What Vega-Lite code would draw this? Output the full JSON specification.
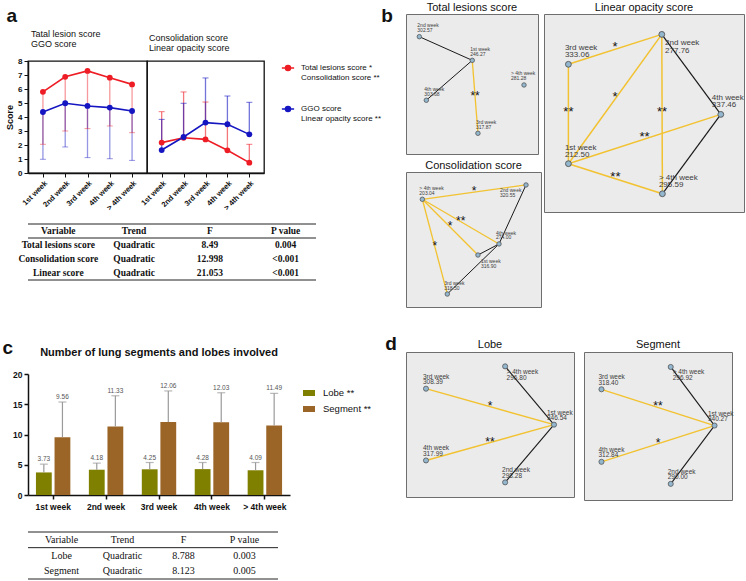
{
 "$schema": "https://vega.github.io/schema/vega-lite/v6.json",
 "padding": {"left": 2, "top": 1, "right": 0, "bottom": 0},
 "background": "white",
 "config": {"font": "Liberation Sans", "view": {"stroke": null}, "axis": {"grid": false}, "title": {"color": "#111", "fontWeight": "normal"}},
 "datasets": {
  "scores": [
   {"panel":"L","series":"A","week":"1st week","mean":5.8,"end":2.05},
   {"panel":"L","series":"A","week":"2nd week","mean":6.87,"end":3.0},
   {"panel":"L","series":"A","week":"3rd week","mean":7.29,"end":3.17},
   {"panel":"L","series":"A","week":"4th week","mean":6.81,"end":3.36},
   {"panel":"L","series":"A","week":"> 4th week","mean":6.33,"end":2.88},
   {"panel":"L","series":"B","week":"1st week","mean":4.36,"end":0.98},
   {"panel":"L","series":"B","week":"2nd week","mean":4.98,"end":1.86},
   {"panel":"L","series":"B","week":"3rd week","mean":4.79,"end":1.1},
   {"panel":"L","series":"B","week":"4th week","mean":4.67,"end":1.02},
   {"panel":"L","series":"B","week":"> 4th week","mean":4.43,"end":0.9},
   {"panel":"R","series":"A","week":"1st week","mean":2.17,"end":4.38},
   {"panel":"R","series":"A","week":"2nd week","mean":2.52,"end":5.79},
   {"panel":"R","series":"A","week":"3rd week","mean":2.4,"end":5.07},
   {"panel":"R","series":"A","week":"4th week","mean":1.62,"end":3.5},
   {"panel":"R","series":"A","week":"> 4th week","mean":0.74,"end":2.05},
   {"panel":"R","series":"B","week":"1st week","mean":1.64,"end":3.83},
   {"panel":"R","series":"B","week":"2nd week","mean":2.57,"end":4.98},
   {"panel":"R","series":"B","week":"3rd week","mean":3.6,"end":6.79},
   {"panel":"R","series":"B","week":"4th week","mean":3.48,"end":5.5},
   {"panel":"R","series":"B","week":"> 4th week","mean":2.76,"end":5.05}
  ],
  "bars": [
   {"week":"1st week","group":"Lobe","mean":3.73,"upper":5.1},
   {"week":"2nd week","group":"Lobe","mean":4.18,"upper":5.27},
   {"week":"3rd week","group":"Lobe","mean":4.25,"upper":5.37},
   {"week":"4th week","group":"Lobe","mean":4.28,"upper":5.37},
   {"week":"> 4th week","group":"Lobe","mean":4.09,"upper":5.37},
   {"week":"1st week","group":"Segment","mean":9.56,"upper":15.37},
   {"week":"2nd week","group":"Segment","mean":11.33,"upper":16.4},
   {"week":"3rd week","group":"Segment","mean":12.06,"upper":17.2},
   {"week":"4th week","group":"Segment","mean":12.03,"upper":16.9},
   {"week":"> 4th week","group":"Segment","mean":11.49,"upper":16.8}
  ],
  "tableA": [
   {"r":0,"col":"Variable","t":"Variable"},{"r":0,"col":"Trend","t":"Trend"},{"r":0,"col":"F","t":"F"},{"r":0,"col":"P value","t":"P value"},
   {"r":1,"col":"Variable","t":"Total lesions score"},{"r":1,"col":"Trend","t":"Quadratic"},{"r":1,"col":"F","t":"8.49"},{"r":1,"col":"P value","t":"0.004"},
   {"r":2,"col":"Variable","t":"Consolidation score"},{"r":2,"col":"Trend","t":"Quadratic"},{"r":2,"col":"F","t":"12.998"},{"r":2,"col":"P value","t":"<0.001"},
   {"r":3,"col":"Variable","t":"Linear score"},{"r":3,"col":"Trend","t":"Quadratic"},{"r":3,"col":"F","t":"21.053"},{"r":3,"col":"P value","t":"<0.001"}
  ],
  "tableC": [
   {"r":0,"col":"Variable","t":"Variable"},{"r":0,"col":"Trend","t":"Trend"},{"r":0,"col":"F","t":"F"},{"r":0,"col":"P value","t":"P value"},
   {"r":1,"col":"Variable","t":"Lobe"},{"r":1,"col":"Trend","t":"Quadratic"},{"r":1,"col":"F","t":"8.788"},{"r":1,"col":"P value","t":"0.003"},
   {"r":2,"col":"Variable","t":"Segment"},{"r":2,"col":"Trend","t":"Quadratic"},{"r":2,"col":"F","t":"8.123"},{"r":2,"col":"P value","t":"0.005"}
  ],
  "nodes": [
   {"graph":"total","id":"total-1","week":"1st week","score":"246.27","x":50.2,"y":66.9},
   {"graph":"total","id":"total-2","week":"2nd week","score":"302.57","x":10.1,"y":83.8},
   {"graph":"total","id":"total-3","week":"3rd week","score":"317.87","x":54.5,"y":14.8},
   {"graph":"total","id":"total-4","week":"4th week","score":"303.68","x":15.4,"y":38.4},
   {"graph":"total","id":"total-5","week":"> 4th week","score":"281.28","x":89.4,"y":49.3},
   {"graph":"consol","id":"consol-1","week":"1st week","score":"316.90","x":53.3,"y":38.5},
   {"graph":"consol","id":"consol-2","week":"2nd week","score":"320.55","x":88.9,"y":90.4},
   {"graph":"consol","id":"consol-3","week":"3rd week","score":"318.50","x":30.6,"y":9.6},
   {"graph":"consol","id":"consol-4","week":"4th week","score":"274.00","x":68.9,"y":46.7},
   {"graph":"consol","id":"consol-5","week":"> 4th week","score":"203.04","x":12.1,"y":79.8},
   {"graph":"linear","id":"linear-1","week":"1st week","score":"212.50","x":12.2,"y":24.4},
   {"graph":"linear","id":"linear-2","week":"2nd week","score":"277.76","x":58.9,"y":89.7},
   {"graph":"linear","id":"linear-3","week":"3rd week","score":"333.06","x":12.2,"y":74.6},
   {"graph":"linear","id":"linear-4","week":"4th week","score":"337.46","x":88.4,"y":49.3},
   {"graph":"linear","id":"linear-5","week":"> 4th week","score":"295.59","x":59.2,"y":9.2},
   {"graph":"lobe","id":"lobe-1","week":"1st week","score":"346.54","x":88.1,"y":49.9},
   {"graph":"lobe","id":"lobe-2","week":"2nd week","score":"298.28","x":59.0,"y":10.1},
   {"graph":"lobe","id":"lobe-3","week":"3rd week","score":"308.39","x":11.9,"y":74.7},
   {"graph":"lobe","id":"lobe-4","week":"4th week","score":"317.99","x":11.9,"y":25.2},
   {"graph":"lobe","id":"lobe-5","week":"> 4th week","score":"296.80","x":59.0,"y":90.1},
   {"graph":"segment","id":"segment-1","week":"1st week","score":"340.27","x":88.2,"y":50.3},
   {"graph":"segment","id":"segment-2","week":"2nd week","score":"290.00","x":58.6,"y":10.9},
   {"graph":"segment","id":"segment-3","week":"3rd week","score":"318.40","x":11.8,"y":74.8},
   {"graph":"segment","id":"segment-4","week":"4th week","score":"312.84","x":11.8,"y":25.8},
   {"graph":"segment","id":"segment-5","week":"> 4th week","score":"296.92","x":58.6,"y":89.9}
  ],
  "edgepts": [
   {"graph":"total","edge":"t21","sig":"ns","x":10.1,"y":83.8},{"graph":"total","edge":"t21","sig":"ns","x":50.2,"y":66.9},
   {"graph":"total","edge":"t41","sig":"ns","x":15.4,"y":38.4},{"graph":"total","edge":"t41","sig":"ns","x":50.2,"y":66.9},
   {"graph":"total","edge":"t13","sig":"**","x":50.2,"y":66.9},{"graph":"total","edge":"t13","sig":"**","x":54.5,"y":14.8},
   {"graph":"consol","edge":"c52","sig":"*","x":12.1,"y":79.8},{"graph":"consol","edge":"c52","sig":"*","x":88.9,"y":90.4},
   {"graph":"consol","edge":"c54","sig":"**","x":12.1,"y":79.8},{"graph":"consol","edge":"c54","sig":"**","x":68.9,"y":46.7},
   {"graph":"consol","edge":"c51","sig":"*","x":12.1,"y":79.8},{"graph":"consol","edge":"c51","sig":"*","x":53.3,"y":38.5},
   {"graph":"consol","edge":"c53","sig":"*","x":12.1,"y":79.8},{"graph":"consol","edge":"c53","sig":"*","x":30.6,"y":9.6},
   {"graph":"consol","edge":"c24","sig":"ns","x":88.9,"y":90.4},{"graph":"consol","edge":"c24","sig":"ns","x":68.9,"y":46.7},
   {"graph":"consol","edge":"c41","sig":"ns","x":68.9,"y":46.7},{"graph":"consol","edge":"c41","sig":"ns","x":53.3,"y":38.5},
   {"graph":"consol","edge":"c43","sig":"ns","x":68.9,"y":46.7},{"graph":"consol","edge":"c43","sig":"ns","x":30.6,"y":9.6},
   {"graph":"linear","edge":"l32","sig":"*","x":12.2,"y":74.6},{"graph":"linear","edge":"l32","sig":"*","x":58.9,"y":89.7},
   {"graph":"linear","edge":"l31","sig":"**","x":12.2,"y":74.6},{"graph":"linear","edge":"l31","sig":"**","x":12.2,"y":24.4},
   {"graph":"linear","edge":"l12","sig":"*","x":12.2,"y":24.4},{"graph":"linear","edge":"l12","sig":"*","x":58.9,"y":89.7},
   {"graph":"linear","edge":"l25","sig":"**","x":58.9,"y":89.7},{"graph":"linear","edge":"l25","sig":"**","x":59.2,"y":9.2},
   {"graph":"linear","edge":"l14","sig":"**","x":12.2,"y":24.4},{"graph":"linear","edge":"l14","sig":"**","x":88.4,"y":49.3},
   {"graph":"linear","edge":"l15","sig":"**","x":12.2,"y":24.4},{"graph":"linear","edge":"l15","sig":"**","x":59.2,"y":9.2},
   {"graph":"linear","edge":"l24","sig":"ns","x":58.9,"y":89.7},{"graph":"linear","edge":"l24","sig":"ns","x":88.4,"y":49.3},
   {"graph":"linear","edge":"l45","sig":"ns","x":88.4,"y":49.3},{"graph":"linear","edge":"l45","sig":"ns","x":59.2,"y":9.2},
   {"graph":"lobe","edge":"b31","sig":"*","x":11.9,"y":74.7},{"graph":"lobe","edge":"b31","sig":"*","x":88.1,"y":49.9},
   {"graph":"lobe","edge":"b41","sig":"**","x":11.9,"y":25.2},{"graph":"lobe","edge":"b41","sig":"**","x":88.1,"y":49.9},
   {"graph":"lobe","edge":"b51","sig":"ns","x":59.0,"y":90.1},{"graph":"lobe","edge":"b51","sig":"ns","x":88.1,"y":49.9},
   {"graph":"lobe","edge":"b12","sig":"ns","x":88.1,"y":49.9},{"graph":"lobe","edge":"b12","sig":"ns","x":59.0,"y":10.1},
   {"graph":"segment","edge":"s31","sig":"**","x":11.8,"y":74.8},{"graph":"segment","edge":"s31","sig":"**","x":88.2,"y":50.3},
   {"graph":"segment","edge":"s41","sig":"*","x":11.8,"y":25.8},{"graph":"segment","edge":"s41","sig":"*","x":88.2,"y":50.3},
   {"graph":"segment","edge":"s51","sig":"ns","x":58.6,"y":89.9},{"graph":"segment","edge":"s51","sig":"ns","x":88.2,"y":50.3},
   {"graph":"segment","edge":"s12","sig":"ns","x":88.2,"y":50.3},{"graph":"segment","edge":"s12","sig":"ns","x":58.6,"y":10.9}
  ]
 },
 "columns": 2,
 "align": "none",
 "spacing": {"row": 0, "column": -2},
 "resolve": {"scale": {"color": "independent"}, "legend": {"color": "independent"}},
 "concat": [
  {
   "columns": 1,
   "align": "none",
   "spacing": {"row": 58, "column": 0},
   "resolve": {"scale": {"color": "independent"}, "legend": {"color": "independent"}},
   "concat": [
    {
     "columns": 1,
     "align": "none",
     "spacing": {"row": 2, "column": 0},
     "concat": [
      {
       "width": 20, "height": 8,
       "data": {"values": [{"label": "a"}]},
       "mark": {"type": "text", "fontSize": 19, "fontWeight": "bold", "align": "right", "baseline": "middle", "dx": -21, "dy": -2, "color": "#111"},
       "encoding": {"text": {"field": "label"}}
      },
      {
       "columns": 1,
       "align": "none",
       "spacing": {"row": 11, "column": 0},
       "concat": [
        {
         "spacing": 0,
         "bounds": "flush",
         "resolve": {"legend": {"color": "independent"}},
         "hconcat": [
          {
           "width": 119, "height": 112,
           "title": {"text": ["Tatal lesion score", "GGO score"], "anchor": "start", "frame": "group", "fontSize": 9, "lineHeight": 10.5, "offset": 8, "dx": 3},
           "view": {"stroke": "#111", "strokeWidth": 1.3},
           "data": {"name": "scores"},
           "transform": [{"filter": "datum.panel === 'L'"}],
           "encoding": {
            "x": {"field": "week", "type": "ordinal", "scale": {"type": "point", "domain": ["1st week", "2nd week", "3rd week", "4th week", "> 4th week"], "padding": 0.67},
                  "axis": {"title": null, "labelAngle": -45, "labelFontSize": 7.5, "labelFontWeight": "bold", "labelColor": "#111", "tickColor": "#111", "tickSize": 4, "domainColor": "#111", "domainWidth": 1.5, "labelPadding": 2}},
            "color": {"field": "series", "type": "nominal", "scale": {"domain": ["A", "B"], "range": ["#ee1c24", "#1515c2"]}, "legend": null}
           },
           "layer": [
            {"mark": {"type": "rule", "opacity": 0.45, "strokeWidth": 1.3},
             "encoding": {"y": {"field": "mean", "type": "quantitative", "title": "Score", "scale": {"domain": [0, 8], "nice": false},
               "axis": {"values": [0,1,2,3,4,5,6,7,8], "labelOverlap": false, "labelFontSize": 8, "labelFontWeight": "bold", "labelColor": "#111", "tickColor": "#111", "tickSize": 4, "domainColor": "#111", "domainWidth": 1.5, "titleFontSize": 9, "titleFontWeight": "bold", "titleColor": "#111", "titlePadding": 3, "labelPadding": 2}},
               "y2": {"field": "end"}}},
            {"mark": {"type": "tick", "opacity": 0.45, "thickness": 1, "size": 6},
             "encoding": {"y": {"field": "end", "type": "quantitative", "title": "Score", "scale": {"domain": [0, 8], "nice": false},
               "axis": {"values": [0,1,2,3,4,5,6,7,8], "labelOverlap": false, "labelFontSize": 8, "labelFontWeight": "bold", "labelColor": "#111", "tickColor": "#111", "tickSize": 4, "domainColor": "#111", "domainWidth": 1.5, "titleFontSize": 9, "titleFontWeight": "bold", "titleColor": "#111", "titlePadding": 3, "labelPadding": 2}}}},
            {"mark": {"type": "line", "strokeWidth": 1.6},
             "encoding": {"y": {"field": "mean", "type": "quantitative", "title": "Score", "scale": {"domain": [0, 8], "nice": false},
               "axis": {"values": [0,1,2,3,4,5,6,7,8], "labelOverlap": false, "labelFontSize": 8, "labelFontWeight": "bold", "labelColor": "#111", "tickColor": "#111", "tickSize": 4, "domainColor": "#111", "domainWidth": 1.5, "titleFontSize": 9, "titleFontWeight": "bold", "titleColor": "#111", "titlePadding": 3, "labelPadding": 2}}}},
            {"mark": {"type": "point", "filled": true, "size": 34, "opacity": 1},
             "encoding": {"y": {"field": "mean", "type": "quantitative", "title": "Score", "scale": {"domain": [0, 8], "nice": false},
               "axis": {"values": [0,1,2,3,4,5,6,7,8], "labelOverlap": false, "labelFontSize": 8, "labelFontWeight": "bold", "labelColor": "#111", "tickColor": "#111", "tickSize": 4, "domainColor": "#111", "domainWidth": 1.5, "titleFontSize": 9, "titleFontWeight": "bold", "titleColor": "#111", "titlePadding": 3, "labelPadding": 2}}}}
           ]
          },
          {
           "width": 117, "height": 112,
           "title": {"text": ["Consolidation score", "Linear opacity score"], "anchor": "start", "frame": "group", "fontSize": 9, "lineHeight": 10.5, "offset": 8, "dx": 2},
           "view": {"stroke": "#111", "strokeWidth": 1.3},
           "data": {"name": "scores"},
           "transform": [{"filter": "datum.panel === 'R'"}],
           "encoding": {
            "x": {"field": "week", "type": "ordinal", "scale": {"type": "point", "domain": ["1st week", "2nd week", "3rd week", "4th week", "> 4th week"], "padding": 0.67},
                  "axis": {"title": null, "labelAngle": -45, "labelFontSize": 7.5, "labelFontWeight": "bold", "labelColor": "#111", "tickColor": "#111", "tickSize": 4, "domainColor": "#111", "domainWidth": 1.5, "labelPadding": 2}},
            "color": {"field": "series", "type": "nominal", "scale": {"domain": ["A", "B"], "range": ["#ee1c24", "#1515c2"]},
              "legend": {"title": null, "orient": "none", "legendX": 134, "legendY": 0, "labelExpr": "datum.value === 'A' ? ['Total lesions score *', ' Consolidation score **'] : ['GGO score', 'Linear opacity score **']", "labelFontSize": 8, "labelColor": "#111", "labelLimit": 300, "rowPadding": 20, "symbolType": "M-1,0H1M-0.42,0A0.42,0.42,0,1,0,0.42,0A0.42,0.42,0,1,0,-0.42,0Z", "symbolSize": 150, "symbolStrokeWidth": 1.4, "symbolOpacity": 1, "labelOffset": 6}}
           },
           "layer": [
            {"mark": {"type": "rule", "opacity": 0.6, "strokeWidth": 1.3},
             "encoding": {"y": {"field": "mean", "type": "quantitative", "scale": {"domain": [0, 8], "nice": false}, "axis": null}, "y2": {"field": "end"}}},
            {"mark": {"type": "tick", "opacity": 0.6, "thickness": 1, "size": 6}, "encoding": {"y": {"field": "end", "type": "quantitative", "scale": {"domain": [0, 8], "nice": false}, "axis": null}}},
            {"mark": {"type": "line", "strokeWidth": 1.6}, "encoding": {"y": {"field": "mean", "type": "quantitative", "scale": {"domain": [0, 8], "nice": false}, "axis": null}}},
            {"mark": {"type": "point", "filled": true, "size": 34, "opacity": 1}, "encoding": {"y": {"field": "mean", "type": "quantitative", "scale": {"domain": [0, 8], "nice": false}, "axis": null}}}
           ]
          }
         ]
        },
        {
         "width": 288, "height": 56,
         "data": {"name": "tableA"},
         "layer": [
          {"mark": {"type": "text", "font": "Liberation Serif", "fontSize": 9.5, "fontWeight": "bold", "color": "#111"},
           "encoding": {"x": {"field": "col", "type": "nominal", "scale": {"type": "point", "domain": ["Variable", "Trend", "F", "P value"], "padding": 0.4}, "axis": null},
                        "y": {"field": "r", "type": "quantitative", "scale": {"domain": [-0.5, 3.5], "reverse": true, "nice": false, "zero": false}, "axis": null},
                        "text": {"field": "t"}}},
          {"data": {"values": [{}]}, "mark": {"type": "rule", "color": "#222", "strokeWidth": 1}, "encoding": {"y": {"datum": -0.5, "type": "quantitative"}}},
          {"data": {"values": [{}]}, "mark": {"type": "rule", "color": "#222", "strokeWidth": 1}, "encoding": {"y": {"datum": 0.5, "type": "quantitative"}}},
          {"data": {"values": [{}]}, "mark": {"type": "rule", "color": "#222", "strokeWidth": 1}, "encoding": {"y": {"datum": 3.5, "type": "quantitative"}}}
         ]
        }
       ]
      }
     ]
    },
    {
     "title": {"text": "c", "orient": "left", "anchor": "end", "angle": 0, "align": "right", "baseline": "top", "fontSize": 19, "fontWeight": "bold", "offset": -11, "dy": -8},
     "spacing": 37,
     "bounds": "flush",
     "resolve": {"scale": {"color": "independent"}, "legend": {"color": "independent"}},
     "vconcat": [
      {
       "width": 262, "height": 121,
       "title": {"text": "Number of lung segments and lobes involved", "fontSize": 11, "fontWeight": "bold", "offset": 12, "anchor": "middle"},
       "data": {"name": "bars"},
       "encoding": {
        "x": {"field": "week", "type": "nominal", "scale": {"domain": ["1st week", "2nd week", "3rd week", "4th week", "> 4th week"], "paddingInner": 0.35, "paddingOuter": 0.15},
              "axis": {"title": null, "labelAngle": 0, "labelFontSize": 8.5, "labelFontWeight": "bold", "labelColor": "#111", "tickColor": "#111", "tickSize": 4, "tickWidth": 1.5, "domainColor": "#111", "domainWidth": 1.5, "labelPadding": 3}},
        "xOffset": {"field": "group", "type": "nominal", "scale": {"domain": ["Lobe", "Segment"], "paddingInner": 0.15}}
       },
       "layer": [
        {"mark": {"type": "bar"},
         "encoding": {"y": {"field": "mean", "type": "quantitative", "title": null, "scale": {"domain": [0, 20], "nice": false},
            "axis": {"title": null, "values": [0, 5, 10, 15, 20], "labelOverlap": false, "labelFontSize": 8.5, "labelFontWeight": "bold", "labelColor": "#111", "tickColor": "#111", "tickSize": 4, "tickWidth": 1.5, "domainColor": "#111", "domainWidth": 1.5, "labelPadding": 2}},
           "color": {"field": "group", "type": "nominal", "scale": {"domain": ["Lobe", "Segment"], "range": ["#808000", "#9b6527"]},
             "legend": {"title": null, "orient": "none", "legendX": 275, "legendY": 13, "labelExpr": "datum.label + ' **'", "labelFontSize": 9.5, "labelColor": "#111", "symbolType": "M-1,-0.5H1V0.5H-1Z", "symbolSize": 144, "symbolStrokeWidth": 0, "rowPadding": 5, "labelOffset": 8}}}},
        {"mark": {"type": "rule", "color": "#9a9a9a", "strokeWidth": 1.2},
         "encoding": {"y": {"field": "mean", "type": "quantitative", "title": null, "scale": {"domain": [0, 20], "nice": false},
            "axis": {"title": null, "values": [0, 5, 10, 15, 20], "labelOverlap": false, "labelFontSize": 8.5, "labelFontWeight": "bold", "labelColor": "#111", "tickColor": "#111", "tickSize": 4, "tickWidth": 1.5, "domainColor": "#111", "domainWidth": 1.5, "labelPadding": 2}}, "y2": {"field": "upper"}}},
        {"mark": {"type": "tick", "color": "#9a9a9a", "thickness": 1.2, "size": 8},
         "encoding": {"y": {"field": "upper", "type": "quantitative", "title": null, "scale": {"domain": [0, 20], "nice": false},
            "axis": {"title": null, "values": [0, 5, 10, 15, 20], "labelOverlap": false, "labelFontSize": 8.5, "labelFontWeight": "bold", "labelColor": "#111", "tickColor": "#111", "tickSize": 4, "tickWidth": 1.5, "domainColor": "#111", "domainWidth": 1.5, "labelPadding": 2}}}},
        {"mark": {"type": "text", "fontSize": 6.5, "color": "#555", "baseline": "bottom", "dy": -2},
         "encoding": {"y": {"field": "upper", "type": "quantitative", "title": null, "scale": {"domain": [0, 20], "nice": false},
            "axis": {"title": null, "values": [0, 5, 10, 15, 20], "labelOverlap": false, "labelFontSize": 8.5, "labelFontWeight": "bold", "labelColor": "#111", "tickColor": "#111", "tickSize": 4, "tickWidth": 1.5, "domainColor": "#111", "domainWidth": 1.5, "labelPadding": 2}},
           "text": {"field": "mean", "type": "quantitative", "format": ".2f"}}}
       ]
      },
      {
       "width": 250, "height": 47,
       "data": {"name": "tableC"},
       "layer": [
        {"mark": {"type": "text", "font": "Liberation Serif", "fontSize": 10, "color": "#111"},
         "encoding": {"x": {"field": "col", "type": "nominal", "scale": {"type": "point", "domain": ["Variable", "Trend", "F", "P value"], "padding": 0.55}, "axis": null},
                      "y": {"field": "r", "type": "quantitative", "scale": {"domain": [-0.5, 2.5], "reverse": true, "nice": false, "zero": false}, "axis": null},
                      "text": {"field": "t"}}},
        {"data": {"values": [{}]}, "mark": {"type": "rule", "color": "#222", "strokeWidth": 1}, "encoding": {"y": {"datum": -0.5, "type": "quantitative"}}},
        {"data": {"values": [{}]}, "mark": {"type": "rule", "color": "#222", "strokeWidth": 1}, "encoding": {"y": {"datum": 0.5, "type": "quantitative"}}},
        {"data": {"values": [{}]}, "mark": {"type": "rule", "color": "#222", "strokeWidth": 1}, "encoding": {"y": {"datum": 2.5, "type": "quantitative"}}}
       ]
      }
     ]
    }
   ]
  },
  {
   "columns": 1,
   "align": "none",
   "spacing": {"row": 26, "column": 0},
   "concat": [
    {
     "title": {"text": "b", "orient": "left", "anchor": "end", "angle": 0, "align": "right", "baseline": "top", "fontSize": 19, "fontWeight": "bold", "offset": 1, "dy": 5},
     "columns": 2,
     "align": "none",
     "spacing": {"row": 0, "column": 1},
     "concat": [
      {
       "columns": 1,
       "align": "none",
       "spacing": {"row": 4, "column": 0},
       "concat": [
        {
         "width": 132, "height": 140,
         "title": {"text": "Total lesions score", "fontSize": 11, "offset": 1},
         "view": {"fill": "#ebebeb", "stroke": "#6e6e6e", "strokeWidth": 1},
         "layer": [
          {"data": {"name": "edgepts"}, "transform": [{"filter": "datum.graph === 'total' && datum.sig === 'ns'"}],
           "mark": {"type": "line", "color": "#1a1a1a", "strokeWidth": 1},
           "encoding": {"x": {"field": "x", "type": "quantitative", "scale": {"domain": [0, 100], "nice": false, "zero": false}, "axis": null}, "y": {"field": "y", "type": "quantitative", "scale": {"domain": [0, 100], "nice": false, "zero": false}, "axis": null}, "detail": {"field": "edge"}}},
          {"data": {"name": "edgepts"}, "transform": [{"filter": "datum.graph === 'total' && datum.sig !== 'ns'"}],
           "mark": {"type": "line", "color": "#f2c230", "strokeWidth": 1.3},
           "encoding": {"x": {"field": "x", "type": "quantitative", "scale": {"domain": [0, 100], "nice": false, "zero": false}, "axis": null}, "y": {"field": "y", "type": "quantitative", "scale": {"domain": [0, 100], "nice": false, "zero": false}, "axis": null}, "detail": {"field": "edge"}}},
          {"data": {"name": "edgepts"}, "transform": [{"filter": "datum.graph === 'total' && datum.sig !== 'ns'"}, {"aggregate": [{"op": "mean", "field": "x", "as": "mx"}, {"op": "mean", "field": "y", "as": "my"}], "groupby": ["edge", "sig"]}],
           "mark": {"type": "text", "fontSize": 12, "color": "#111", "baseline": "middle", "dy": -1},
           "encoding": {"x": {"field": "mx", "type": "quantitative", "scale": {"domain": [0, 100], "nice": false, "zero": false}, "axis": null}, "y": {"field": "my", "type": "quantitative", "scale": {"domain": [0, 100], "nice": false, "zero": false}, "axis": null}, "text": {"field": "sig"}}},
          {"data": {"name": "nodes"}, "transform": [{"filter": "datum.graph === 'total'"}],
           "mark": {"type": "circle", "fill": "#93b7cf", "stroke": "#555", "strokeWidth": 0.8, "size": 20, "opacity": 1},
           "encoding": {"x": {"field": "x", "type": "quantitative", "scale": {"domain": [0, 100], "nice": false, "zero": false}, "axis": null}, "y": {"field": "y", "type": "quantitative", "scale": {"domain": [0, 100], "nice": false, "zero": false}, "axis": null}}},
          {"data": {"name": "nodes"}, "transform": [{"filter": {"field": "id", "oneOf": ["total-1", "total-2", "total-3", "total-4"]}}],
           "mark": {"type": "text", "align": "left", "baseline": "middle", "fontSize": 5, "color": "#3c3c3c", "dx": -2, "dy": -11.5},
           "encoding": {"x": {"field": "x", "type": "quantitative", "scale": {"domain": [0, 100], "nice": false, "zero": false}, "axis": null}, "y": {"field": "y", "type": "quantitative", "scale": {"domain": [0, 100], "nice": false, "zero": false}, "axis": null}, "text": {"field": "week"}}},
          {"data": {"name": "nodes"}, "transform": [{"filter": {"field": "id", "oneOf": ["total-1", "total-2", "total-3", "total-4"]}}],
           "mark": {"type": "text", "align": "left", "baseline": "middle", "fontSize": 5, "color": "#3c3c3c", "dx": -2, "dy": -6.5},
           "encoding": {"x": {"field": "x", "type": "quantitative", "scale": {"domain": [0, 100], "nice": false, "zero": false}, "axis": null}, "y": {"field": "y", "type": "quantitative", "scale": {"domain": [0, 100], "nice": false, "zero": false}, "axis": null}, "text": {"field": "score"}}},
          {"data": {"name": "nodes"}, "transform": [{"filter": {"field": "id", "oneOf": ["total-5"]}}],
           "mark": {"type": "text", "align": "left", "baseline": "middle", "fontSize": 5, "color": "#3c3c3c", "dx": -13, "dy": -11.5},
           "encoding": {"x": {"field": "x", "type": "quantitative", "scale": {"domain": [0, 100], "nice": false, "zero": false}, "axis": null}, "y": {"field": "y", "type": "quantitative", "scale": {"domain": [0, 100], "nice": false, "zero": false}, "axis": null}, "text": {"field": "week"}}},
          {"data": {"name": "nodes"}, "transform": [{"filter": {"field": "id", "oneOf": ["total-5"]}}],
           "mark": {"type": "text", "align": "left", "baseline": "middle", "fontSize": 5, "color": "#3c3c3c", "dx": -13, "dy": -6.5},
           "encoding": {"x": {"field": "x", "type": "quantitative", "scale": {"domain": [0, 100], "nice": false, "zero": false}, "axis": null}, "y": {"field": "y", "type": "quantitative", "scale": {"domain": [0, 100], "nice": false, "zero": false}, "axis": null}, "text": {"field": "score"}}}
         ]
        },
        {
         "width": 135, "height": 135,
         "title": {"text": "Consolidation score", "fontSize": 11, "offset": 1},
         "view": {"fill": "#ebebeb", "stroke": "#6e6e6e", "strokeWidth": 1},
         "layer": [
          {"data": {"name": "edgepts"}, "transform": [{"filter": "datum.graph === 'consol' && datum.sig === 'ns'"}],
           "mark": {"type": "line", "color": "#1a1a1a", "strokeWidth": 1},
           "encoding": {"x": {"field": "x", "type": "quantitative", "scale": {"domain": [0, 100], "nice": false, "zero": false}, "axis": null}, "y": {"field": "y", "type": "quantitative", "scale": {"domain": [0, 100], "nice": false, "zero": false}, "axis": null}, "detail": {"field": "edge"}}},
          {"data": {"name": "edgepts"}, "transform": [{"filter": "datum.graph === 'consol' && datum.sig !== 'ns'"}],
           "mark": {"type": "line", "color": "#f2c230", "strokeWidth": 1.3},
           "encoding": {"x": {"field": "x", "type": "quantitative", "scale": {"domain": [0, 100], "nice": false, "zero": false}, "axis": null}, "y": {"field": "y", "type": "quantitative", "scale": {"domain": [0, 100], "nice": false, "zero": false}, "axis": null}, "detail": {"field": "edge"}}},
          {"data": {"name": "edgepts"}, "transform": [{"filter": "datum.graph === 'consol' && datum.sig !== 'ns'"}, {"aggregate": [{"op": "mean", "field": "x", "as": "mx"}, {"op": "mean", "field": "y", "as": "my"}], "groupby": ["edge", "sig"]}],
           "mark": {"type": "text", "fontSize": 12, "color": "#111", "baseline": "middle", "dy": -1},
           "encoding": {"x": {"field": "mx", "type": "quantitative", "scale": {"domain": [0, 100], "nice": false, "zero": false}, "axis": null}, "y": {"field": "my", "type": "quantitative", "scale": {"domain": [0, 100], "nice": false, "zero": false}, "axis": null}, "text": {"field": "sig"}}},
          {"data": {"name": "nodes"}, "transform": [{"filter": "datum.graph === 'consol'"}],
           "mark": {"type": "circle", "fill": "#93b7cf", "stroke": "#555", "strokeWidth": 0.8, "size": 20, "opacity": 1},
           "encoding": {"x": {"field": "x", "type": "quantitative", "scale": {"domain": [0, 100], "nice": false, "zero": false}, "axis": null}, "y": {"field": "y", "type": "quantitative", "scale": {"domain": [0, 100], "nice": false, "zero": false}, "axis": null}}},
          {"data": {"name": "nodes"}, "transform": [{"filter": {"field": "id", "oneOf": ["consol-3", "consol-4", "consol-5"]}}],
           "mark": {"type": "text", "align": "left", "baseline": "middle", "fontSize": 5, "color": "#3c3c3c", "dx": -3, "dy": -11.3},
           "encoding": {"x": {"field": "x", "type": "quantitative", "scale": {"domain": [0, 100], "nice": false, "zero": false}, "axis": null}, "y": {"field": "y", "type": "quantitative", "scale": {"domain": [0, 100], "nice": false, "zero": false}, "axis": null}, "text": {"field": "week"}}},
          {"data": {"name": "nodes"}, "transform": [{"filter": {"field": "id", "oneOf": ["consol-3", "consol-4", "consol-5"]}}],
           "mark": {"type": "text", "align": "left", "baseline": "middle", "fontSize": 5, "color": "#3c3c3c", "dx": -3, "dy": -6.5},
           "encoding": {"x": {"field": "x", "type": "quantitative", "scale": {"domain": [0, 100], "nice": false, "zero": false}, "axis": null}, "y": {"field": "y", "type": "quantitative", "scale": {"domain": [0, 100], "nice": false, "zero": false}, "axis": null}, "text": {"field": "score"}}},
          {"data": {"name": "nodes"}, "transform": [{"filter": {"field": "id", "oneOf": ["consol-2"]}}],
           "mark": {"type": "text", "align": "left", "baseline": "middle", "fontSize": 5, "color": "#3c3c3c", "dx": -26, "dy": 5.5},
           "encoding": {"x": {"field": "x", "type": "quantitative", "scale": {"domain": [0, 100], "nice": false, "zero": false}, "axis": null}, "y": {"field": "y", "type": "quantitative", "scale": {"domain": [0, 100], "nice": false, "zero": false}, "axis": null}, "text": {"field": "week"}}},
          {"data": {"name": "nodes"}, "transform": [{"filter": {"field": "id", "oneOf": ["consol-2"]}}],
           "mark": {"type": "text", "align": "left", "baseline": "middle", "fontSize": 5, "color": "#3c3c3c", "dx": -26, "dy": 10.5},
           "encoding": {"x": {"field": "x", "type": "quantitative", "scale": {"domain": [0, 100], "nice": false, "zero": false}, "axis": null}, "y": {"field": "y", "type": "quantitative", "scale": {"domain": [0, 100], "nice": false, "zero": false}, "axis": null}, "text": {"field": "score"}}},
          {"data": {"name": "nodes"}, "transform": [{"filter": {"field": "id", "oneOf": ["consol-1"]}}],
           "mark": {"type": "text", "align": "left", "baseline": "middle", "fontSize": 5, "color": "#3c3c3c", "dx": 3, "dy": 5.7},
           "encoding": {"x": {"field": "x", "type": "quantitative", "scale": {"domain": [0, 100], "nice": false, "zero": false}, "axis": null}, "y": {"field": "y", "type": "quantitative", "scale": {"domain": [0, 100], "nice": false, "zero": false}, "axis": null}, "text": {"field": "week"}}},
          {"data": {"name": "nodes"}, "transform": [{"filter": {"field": "id", "oneOf": ["consol-1"]}}],
           "mark": {"type": "text", "align": "left", "baseline": "middle", "fontSize": 5, "color": "#3c3c3c", "dx": 3, "dy": 10.7},
           "encoding": {"x": {"field": "x", "type": "quantitative", "scale": {"domain": [0, 100], "nice": false, "zero": false}, "axis": null}, "y": {"field": "y", "type": "quantitative", "scale": {"domain": [0, 100], "nice": false, "zero": false}, "axis": null}, "text": {"field": "score"}}}
         ]
        }
       ]
      },
      {
       "width": 200, "height": 198,
       "title": {"text": "Linear opacity score", "fontSize": 11, "offset": 1},
       "view": {"fill": "#ebebeb", "stroke": "#6e6e6e", "strokeWidth": 1},
       "layer": [
        {"data": {"name": "edgepts"}, "transform": [{"filter": "datum.graph === 'linear' && datum.sig === 'ns'"}],
         "mark": {"type": "line", "color": "#1a1a1a", "strokeWidth": 1.2},
         "encoding": {"x": {"field": "x", "type": "quantitative", "scale": {"domain": [0, 100], "nice": false, "zero": false}, "axis": null}, "y": {"field": "y", "type": "quantitative", "scale": {"domain": [0, 100], "nice": false, "zero": false}, "axis": null}, "detail": {"field": "edge"}}},
        {"data": {"name": "edgepts"}, "transform": [{"filter": "datum.graph === 'linear' && datum.sig !== 'ns'"}],
         "mark": {"type": "line", "color": "#f2c230", "strokeWidth": 1.5},
         "encoding": {"x": {"field": "x", "type": "quantitative", "scale": {"domain": [0, 100], "nice": false, "zero": false}, "axis": null}, "y": {"field": "y", "type": "quantitative", "scale": {"domain": [0, 100], "nice": false, "zero": false}, "axis": null}, "detail": {"field": "edge"}}},
        {"data": {"name": "edgepts"}, "transform": [{"filter": "datum.graph === 'linear' && datum.sig !== 'ns'"}, {"aggregate": [{"op": "mean", "field": "x", "as": "mx"}, {"op": "mean", "field": "y", "as": "my"}], "groupby": ["edge", "sig"]}],
         "mark": {"type": "text", "fontSize": 13, "color": "#111", "baseline": "middle", "dy": -2},
         "encoding": {"x": {"field": "mx", "type": "quantitative", "scale": {"domain": [0, 100], "nice": false, "zero": false}, "axis": null}, "y": {"field": "my", "type": "quantitative", "scale": {"domain": [0, 100], "nice": false, "zero": false}, "axis": null}, "text": {"field": "sig"}}},
        {"data": {"name": "nodes"}, "transform": [{"filter": "datum.graph === 'linear'"}],
         "mark": {"type": "circle", "fill": "#93b7cf", "stroke": "#555", "strokeWidth": 0.9, "size": 34, "opacity": 1},
         "encoding": {"x": {"field": "x", "type": "quantitative", "scale": {"domain": [0, 100], "nice": false, "zero": false}, "axis": null}, "y": {"field": "y", "type": "quantitative", "scale": {"domain": [0, 100], "nice": false, "zero": false}, "axis": null}}},
        {"data": {"name": "nodes"}, "transform": [{"filter": {"field": "id", "oneOf": ["linear-1", "linear-3", "linear-5"]}}],
         "mark": {"type": "text", "align": "left", "baseline": "middle", "fontSize": 8, "color": "#3c3c3c", "dx": -3.5, "dy": -16},
         "encoding": {"x": {"field": "x", "type": "quantitative", "scale": {"domain": [0, 100], "nice": false, "zero": false}, "axis": null}, "y": {"field": "y", "type": "quantitative", "scale": {"domain": [0, 100], "nice": false, "zero": false}, "axis": null}, "text": {"field": "week"}}},
        {"data": {"name": "nodes"}, "transform": [{"filter": {"field": "id", "oneOf": ["linear-1", "linear-3", "linear-5"]}}],
         "mark": {"type": "text", "align": "left", "baseline": "middle", "fontSize": 8, "color": "#3c3c3c", "dx": -3.5, "dy": -9},
         "encoding": {"x": {"field": "x", "type": "quantitative", "scale": {"domain": [0, 100], "nice": false, "zero": false}, "axis": null}, "y": {"field": "y", "type": "quantitative", "scale": {"domain": [0, 100], "nice": false, "zero": false}, "axis": null}, "text": {"field": "score"}}},
        {"data": {"name": "nodes"}, "transform": [{"filter": {"field": "id", "oneOf": ["linear-4"]}}],
         "mark": {"type": "text", "align": "left", "baseline": "middle", "fontSize": 8, "color": "#3c3c3c", "dx": -9, "dy": -16},
         "encoding": {"x": {"field": "x", "type": "quantitative", "scale": {"domain": [0, 100], "nice": false, "zero": false}, "axis": null}, "y": {"field": "y", "type": "quantitative", "scale": {"domain": [0, 100], "nice": false, "zero": false}, "axis": null}, "text": {"field": "week"}}},
        {"data": {"name": "nodes"}, "transform": [{"filter": {"field": "id", "oneOf": ["linear-4"]}}],
         "mark": {"type": "text", "align": "left", "baseline": "middle", "fontSize": 8, "color": "#3c3c3c", "dx": -9, "dy": -9},
         "encoding": {"x": {"field": "x", "type": "quantitative", "scale": {"domain": [0, 100], "nice": false, "zero": false}, "axis": null}, "y": {"field": "y", "type": "quantitative", "scale": {"domain": [0, 100], "nice": false, "zero": false}, "axis": null}, "text": {"field": "score"}}},
        {"data": {"name": "nodes"}, "transform": [{"filter": {"field": "id", "oneOf": ["linear-2"]}}],
         "mark": {"type": "text", "align": "left", "baseline": "middle", "fontSize": 8, "color": "#3c3c3c", "dx": 3.3, "dy": 9},
         "encoding": {"x": {"field": "x", "type": "quantitative", "scale": {"domain": [0, 100], "nice": false, "zero": false}, "axis": null}, "y": {"field": "y", "type": "quantitative", "scale": {"domain": [0, 100], "nice": false, "zero": false}, "axis": null}, "text": {"field": "week"}}},
        {"data": {"name": "nodes"}, "transform": [{"filter": {"field": "id", "oneOf": ["linear-2"]}}],
         "mark": {"type": "text", "align": "left", "baseline": "middle", "fontSize": 8, "color": "#3c3c3c", "dx": 3.3, "dy": 16.3},
         "encoding": {"x": {"field": "x", "type": "quantitative", "scale": {"domain": [0, 100], "nice": false, "zero": false}, "axis": null}, "y": {"field": "y", "type": "quantitative", "scale": {"domain": [0, 100], "nice": false, "zero": false}, "axis": null}, "text": {"field": "score"}}}
       ]
      }
     ]
    },
    {
     "title": {"text": "d", "orient": "left", "anchor": "end", "angle": 0, "align": "right", "baseline": "top", "fontSize": 19, "fontWeight": "bold", "offset": -3, "dy": -4},
     "columns": 2,
     "align": "none",
     "spacing": {"row": 0, "column": 8},
     "concat": [
      {
       "width": 168, "height": 145,
       "title": {"text": "Lobe", "fontSize": 11, "offset": 2},
       "view": {"fill": "#ebebeb", "stroke": "#6e6e6e", "strokeWidth": 1},
       "layer": [
        {"data": {"name": "edgepts"}, "transform": [{"filter": "datum.graph === 'lobe' && datum.sig === 'ns'"}],
         "mark": {"type": "line", "color": "#1a1a1a", "strokeWidth": 1.1},
         "encoding": {"x": {"field": "x", "type": "quantitative", "scale": {"domain": [0, 100], "nice": false, "zero": false}, "axis": null}, "y": {"field": "y", "type": "quantitative", "scale": {"domain": [0, 100], "nice": false, "zero": false}, "axis": null}, "detail": {"field": "edge"}}},
        {"data": {"name": "edgepts"}, "transform": [{"filter": "datum.graph === 'lobe' && datum.sig !== 'ns'"}],
         "mark": {"type": "line", "color": "#f2c230", "strokeWidth": 1.4},
         "encoding": {"x": {"field": "x", "type": "quantitative", "scale": {"domain": [0, 100], "nice": false, "zero": false}, "axis": null}, "y": {"field": "y", "type": "quantitative", "scale": {"domain": [0, 100], "nice": false, "zero": false}, "axis": null}, "detail": {"field": "edge"}}},
        {"data": {"name": "edgepts"}, "transform": [{"filter": "datum.graph === 'lobe' && datum.sig !== 'ns'"}, {"aggregate": [{"op": "mean", "field": "x", "as": "mx"}, {"op": "mean", "field": "y", "as": "my"}], "groupby": ["edge", "sig"]}],
         "mark": {"type": "text", "fontSize": 12, "color": "#111", "baseline": "middle", "dy": -1},
         "encoding": {"x": {"field": "mx", "type": "quantitative", "scale": {"domain": [0, 100], "nice": false, "zero": false}, "axis": null}, "y": {"field": "my", "type": "quantitative", "scale": {"domain": [0, 100], "nice": false, "zero": false}, "axis": null}, "text": {"field": "sig"}}},
        {"data": {"name": "nodes"}, "transform": [{"filter": "datum.graph === 'lobe'"}],
         "mark": {"type": "circle", "fill": "#93b7cf", "stroke": "#555", "strokeWidth": 0.8, "size": 26, "opacity": 1},
         "encoding": {"x": {"field": "x", "type": "quantitative", "scale": {"domain": [0, 100], "nice": false, "zero": false}, "axis": null}, "y": {"field": "y", "type": "quantitative", "scale": {"domain": [0, 100], "nice": false, "zero": false}, "axis": null}}},
        {"data": {"name": "nodes"}, "transform": [{"filter": {"field": "id", "oneOf": ["lobe-2", "lobe-3", "lobe-4"]}}],
         "mark": {"type": "text", "align": "left", "baseline": "middle", "fontSize": 6.5, "color": "#3c3c3c", "dx": -3, "dy": -12},
         "encoding": {"x": {"field": "x", "type": "quantitative", "scale": {"domain": [0, 100], "nice": false, "zero": false}, "axis": null}, "y": {"field": "y", "type": "quantitative", "scale": {"domain": [0, 100], "nice": false, "zero": false}, "axis": null}, "text": {"field": "week"}}},
        {"data": {"name": "nodes"}, "transform": [{"filter": {"field": "id", "oneOf": ["lobe-2", "lobe-3", "lobe-4"]}}],
         "mark": {"type": "text", "align": "left", "baseline": "middle", "fontSize": 6.5, "color": "#3c3c3c", "dx": -3, "dy": -6.5},
         "encoding": {"x": {"field": "x", "type": "quantitative", "scale": {"domain": [0, 100], "nice": false, "zero": false}, "axis": null}, "y": {"field": "y", "type": "quantitative", "scale": {"domain": [0, 100], "nice": false, "zero": false}, "axis": null}, "text": {"field": "score"}}},
        {"data": {"name": "nodes"}, "transform": [{"filter": {"field": "id", "oneOf": ["lobe-1"]}}],
         "mark": {"type": "text", "align": "left", "baseline": "middle", "fontSize": 6.5, "color": "#3c3c3c", "dx": -7, "dy": -12},
         "encoding": {"x": {"field": "x", "type": "quantitative", "scale": {"domain": [0, 100], "nice": false, "zero": false}, "axis": null}, "y": {"field": "y", "type": "quantitative", "scale": {"domain": [0, 100], "nice": false, "zero": false}, "axis": null}, "text": {"field": "week"}}},
        {"data": {"name": "nodes"}, "transform": [{"filter": {"field": "id", "oneOf": ["lobe-1"]}}],
         "mark": {"type": "text", "align": "left", "baseline": "middle", "fontSize": 6.5, "color": "#3c3c3c", "dx": -7, "dy": -6.5},
         "encoding": {"x": {"field": "x", "type": "quantitative", "scale": {"domain": [0, 100], "nice": false, "zero": false}, "axis": null}, "y": {"field": "y", "type": "quantitative", "scale": {"domain": [0, 100], "nice": false, "zero": false}, "axis": null}, "text": {"field": "score"}}},
        {"data": {"name": "nodes"}, "transform": [{"filter": {"field": "id", "oneOf": ["lobe-5"]}}],
         "mark": {"type": "text", "align": "left", "baseline": "middle", "fontSize": 6.5, "color": "#3c3c3c", "dx": 1.5, "dy": 6},
         "encoding": {"x": {"field": "x", "type": "quantitative", "scale": {"domain": [0, 100], "nice": false, "zero": false}, "axis": null}, "y": {"field": "y", "type": "quantitative", "scale": {"domain": [0, 100], "nice": false, "zero": false}, "axis": null}, "text": {"field": "week"}}},
        {"data": {"name": "nodes"}, "transform": [{"filter": {"field": "id", "oneOf": ["lobe-5"]}}],
         "mark": {"type": "text", "align": "left", "baseline": "middle", "fontSize": 6.5, "color": "#3c3c3c", "dx": 1.5, "dy": 12},
         "encoding": {"x": {"field": "x", "type": "quantitative", "scale": {"domain": [0, 100], "nice": false, "zero": false}, "axis": null}, "y": {"field": "y", "type": "quantitative", "scale": {"domain": [0, 100], "nice": false, "zero": false}, "axis": null}, "text": {"field": "score"}}}
       ]
      },
      {
       "width": 148, "height": 148,
       "title": {"text": "Segment", "fontSize": 11, "offset": 2},
       "view": {"fill": "#ebebeb", "stroke": "#6e6e6e", "strokeWidth": 1},
       "layer": [
        {"data": {"name": "edgepts"}, "transform": [{"filter": "datum.graph === 'segment' && datum.sig === 'ns'"}],
         "mark": {"type": "line", "color": "#1a1a1a", "strokeWidth": 1.1},
         "encoding": {"x": {"field": "x", "type": "quantitative", "scale": {"domain": [0, 100], "nice": false, "zero": false}, "axis": null}, "y": {"field": "y", "type": "quantitative", "scale": {"domain": [0, 100], "nice": false, "zero": false}, "axis": null}, "detail": {"field": "edge"}}},
        {"data": {"name": "edgepts"}, "transform": [{"filter": "datum.graph === 'segment' && datum.sig !== 'ns'"}],
         "mark": {"type": "line", "color": "#f2c230", "strokeWidth": 1.4},
         "encoding": {"x": {"field": "x", "type": "quantitative", "scale": {"domain": [0, 100], "nice": false, "zero": false}, "axis": null}, "y": {"field": "y", "type": "quantitative", "scale": {"domain": [0, 100], "nice": false, "zero": false}, "axis": null}, "detail": {"field": "edge"}}},
        {"data": {"name": "edgepts"}, "transform": [{"filter": "datum.graph === 'segment' && datum.sig !== 'ns'"}, {"aggregate": [{"op": "mean", "field": "x", "as": "mx"}, {"op": "mean", "field": "y", "as": "my"}], "groupby": ["edge", "sig"]}],
         "mark": {"type": "text", "fontSize": 12, "color": "#111", "baseline": "middle", "dy": -1},
         "encoding": {"x": {"field": "mx", "type": "quantitative", "scale": {"domain": [0, 100], "nice": false, "zero": false}, "axis": null}, "y": {"field": "my", "type": "quantitative", "scale": {"domain": [0, 100], "nice": false, "zero": false}, "axis": null}, "text": {"field": "sig"}}},
        {"data": {"name": "nodes"}, "transform": [{"filter": "datum.graph === 'segment'"}],
         "mark": {"type": "circle", "fill": "#93b7cf", "stroke": "#555", "strokeWidth": 0.8, "size": 26, "opacity": 1},
         "encoding": {"x": {"field": "x", "type": "quantitative", "scale": {"domain": [0, 100], "nice": false, "zero": false}, "axis": null}, "y": {"field": "y", "type": "quantitative", "scale": {"domain": [0, 100], "nice": false, "zero": false}, "axis": null}}},
        {"data": {"name": "nodes"}, "transform": [{"filter": {"field": "id", "oneOf": ["segment-2", "segment-3", "segment-4"]}}],
         "mark": {"type": "text", "align": "left", "baseline": "middle", "fontSize": 6.5, "color": "#3c3c3c", "dx": -3, "dy": -12},
         "encoding": {"x": {"field": "x", "type": "quantitative", "scale": {"domain": [0, 100], "nice": false, "zero": false}, "axis": null}, "y": {"field": "y", "type": "quantitative", "scale": {"domain": [0, 100], "nice": false, "zero": false}, "axis": null}, "text": {"field": "week"}}},
        {"data": {"name": "nodes"}, "transform": [{"filter": {"field": "id", "oneOf": ["segment-2", "segment-3", "segment-4"]}}],
         "mark": {"type": "text", "align": "left", "baseline": "middle", "fontSize": 6.5, "color": "#3c3c3c", "dx": -3, "dy": -6.5},
         "encoding": {"x": {"field": "x", "type": "quantitative", "scale": {"domain": [0, 100], "nice": false, "zero": false}, "axis": null}, "y": {"field": "y", "type": "quantitative", "scale": {"domain": [0, 100], "nice": false, "zero": false}, "axis": null}, "text": {"field": "score"}}},
        {"data": {"name": "nodes"}, "transform": [{"filter": {"field": "id", "oneOf": ["segment-1"]}}],
         "mark": {"type": "text", "align": "left", "baseline": "middle", "fontSize": 6.5, "color": "#3c3c3c", "dx": -6.6, "dy": -12},
         "encoding": {"x": {"field": "x", "type": "quantitative", "scale": {"domain": [0, 100], "nice": false, "zero": false}, "axis": null}, "y": {"field": "y", "type": "quantitative", "scale": {"domain": [0, 100], "nice": false, "zero": false}, "axis": null}, "text": {"field": "week"}}},
        {"data": {"name": "nodes"}, "transform": [{"filter": {"field": "id", "oneOf": ["segment-1"]}}],
         "mark": {"type": "text", "align": "left", "baseline": "middle", "fontSize": 6.5, "color": "#3c3c3c", "dx": -6.6, "dy": -6.5},
         "encoding": {"x": {"field": "x", "type": "quantitative", "scale": {"domain": [0, 100], "nice": false, "zero": false}, "axis": null}, "y": {"field": "y", "type": "quantitative", "scale": {"domain": [0, 100], "nice": false, "zero": false}, "axis": null}, "text": {"field": "score"}}},
        {"data": {"name": "nodes"}, "transform": [{"filter": {"field": "id", "oneOf": ["segment-5"]}}],
         "mark": {"type": "text", "align": "left", "baseline": "middle", "fontSize": 6.5, "color": "#3c3c3c", "dx": 2, "dy": 5.5},
         "encoding": {"x": {"field": "x", "type": "quantitative", "scale": {"domain": [0, 100], "nice": false, "zero": false}, "axis": null}, "y": {"field": "y", "type": "quantitative", "scale": {"domain": [0, 100], "nice": false, "zero": false}, "axis": null}, "text": {"field": "week"}}},
        {"data": {"name": "nodes"}, "transform": [{"filter": {"field": "id", "oneOf": ["segment-5"]}}],
         "mark": {"type": "text", "align": "left", "baseline": "middle", "fontSize": 6.5, "color": "#3c3c3c", "dx": 2, "dy": 11},
         "encoding": {"x": {"field": "x", "type": "quantitative", "scale": {"domain": [0, 100], "nice": false, "zero": false}, "axis": null}, "y": {"field": "y", "type": "quantitative", "scale": {"domain": [0, 100], "nice": false, "zero": false}, "axis": null}, "text": {"field": "score"}}}
       ]
      }
     ]
    }
   ]
  }
 ]
}
